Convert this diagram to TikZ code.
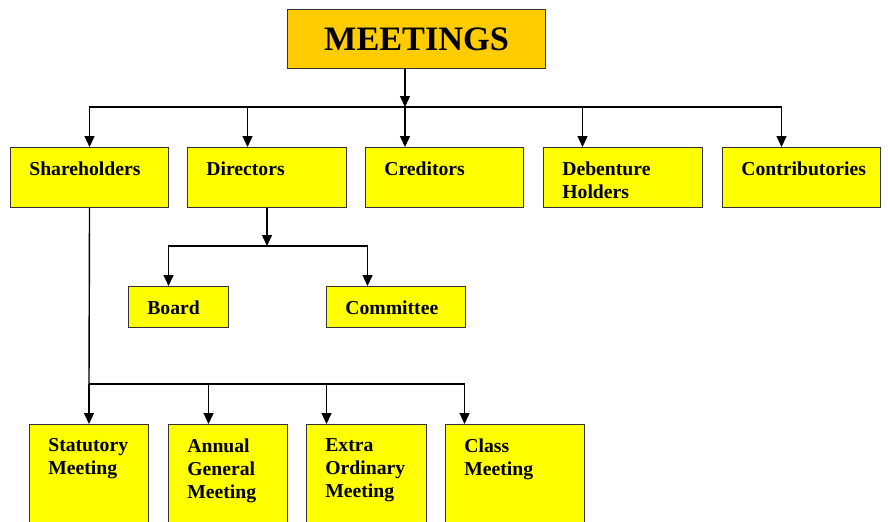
\documentclass[tikz,border=0pt]{standalone}
\usepackage{fontspec}
\setmainfont{Liberation Serif}
\usetikzlibrary{arrows.meta}

\definecolor{gold}{HTML}{FFCC00}
\definecolor{boxyellow}{HTML}{FFFF00}
\definecolor{edge}{HTML}{333333}

\tikzset{
  box/.style={draw=edge, line width=0.6pt, fill=boxyellow, anchor=north west,
    inner sep=0pt, minimum height=1.2cm},
  boxtext/.style={anchor=north west, inner sep=0pt, xshift=0.38cm, yshift=-0.28cm,
    align=left, font=\fontsize{11.2}{13.1}\selectfont\bfseries},
  link/.style={line width=0.8pt, -{Triangle[length=0.22cm, width=0.2cm]}},
  wire/.style={line width=0.8pt}
}

\begin{document}
\begin{tikzpicture}[x=0.2mm, y=-0.2mm]

    \useasboundingbox (0,0) rectangle (888,521);
    \clip (0,0) rectangle (888,521);

    % ==========================================
    % TITLE
    % ==========================================
    \node[box, fill=gold, minimum width=5.16cm, minimum height=1.18cm,
      font=\fontsize{19.5}{23}\selectfont\bfseries] (meet) at (287,9) {MEETINGS};

    % ==========================================
    % FIRST LEVEL: who meets
    % ==========================================
    \node[box, minimum width=3.16cm, label={[boxtext]north west:Shareholders}] (share) at (10,147) {};
    \node[box, minimum width=3.18cm, label={[boxtext]north west:Directors}] (direct) at (187,147) {};
    \node[box, minimum width=3.16cm, label={[boxtext]north west:Creditors}] (cred) at (365,147) {};
    \node[box, minimum width=3.18cm, label={[boxtext]north west:Debenture\\Holders}] (deben) at (543,147) {};
    \node[box, minimum width=3.16cm, label={[boxtext]north west:Contributories}] (contrib) at (722,147) {};

    % Directors' meetings
    \node[box, minimum width=2.0cm, minimum height=0.82cm, label={[boxtext]north west:Board}] (board) at (128,286) {};
    \node[box, minimum width=2.78cm, minimum height=0.82cm, label={[boxtext]north west:Committee}] (commit) at (326,286) {};

    % Shareholders' meetings (run off the bottom edge)
    \node[box, minimum width=2.38cm, minimum height=2.4cm, label={[boxtext]north west:Statutory\\Meeting}] (stat) at (29,424) {};
    \node[box, minimum width=2.38cm, minimum height=2.4cm, label={[boxtext]north west:Annual\\General\\Meeting}] (agm) at (168,424) {};
    \node[box, minimum width=2.4cm, minimum height=2.4cm, label={[boxtext]north west:Extra\\Ordinary\\Meeting}] (egm) at (306,424) {};
    \node[box, minimum width=2.78cm, minimum height=2.4cm, label={[boxtext]north west:Class\\Meeting}] (cls) at (445,424) {};

    % ==========================================
    % CONNECTORS
    % ==========================================
    \coordinate (bus) at (405,107);
    \coordinate (dbus) at (267,246);
    \coordinate (sbus) at (89,384);

    % Title to first level
    \draw[link] (meet.south -| bus) -- (bus);
    \draw[link] (bus) -| (share.north);
    \draw[link] (bus) -| ([xshift=-0.39cm]direct.north);
    \draw[link] (bus) -- (bus |- cred.north);
    \draw[link] (bus) -| ([xshift=-0.81cm]deben.north);
    \draw[link] (bus) -| ([xshift=-0.4cm]contrib.north);

    % Directors branch
    \draw[link] (direct.south -| dbus) -- (dbus);
    \draw[link] (dbus) -| ([xshift=-0.2cm]board.north);
    \draw[link] (dbus) -| ([xshift=-0.57cm]commit.north);

    % Shareholders branch
    \draw[wire] (share.south) -- (sbus);
    \draw[link] (sbus) -- (sbus |- stat.north);
    \draw[link] (sbus) -| ([xshift=-0.39cm]agm.north);
    \draw[link] (sbus) -| ([xshift=-0.8cm]egm.north);
    \draw[link] (sbus) -| ([xshift=-1.01cm]cls.north);

\end{tikzpicture}
\end{document}
